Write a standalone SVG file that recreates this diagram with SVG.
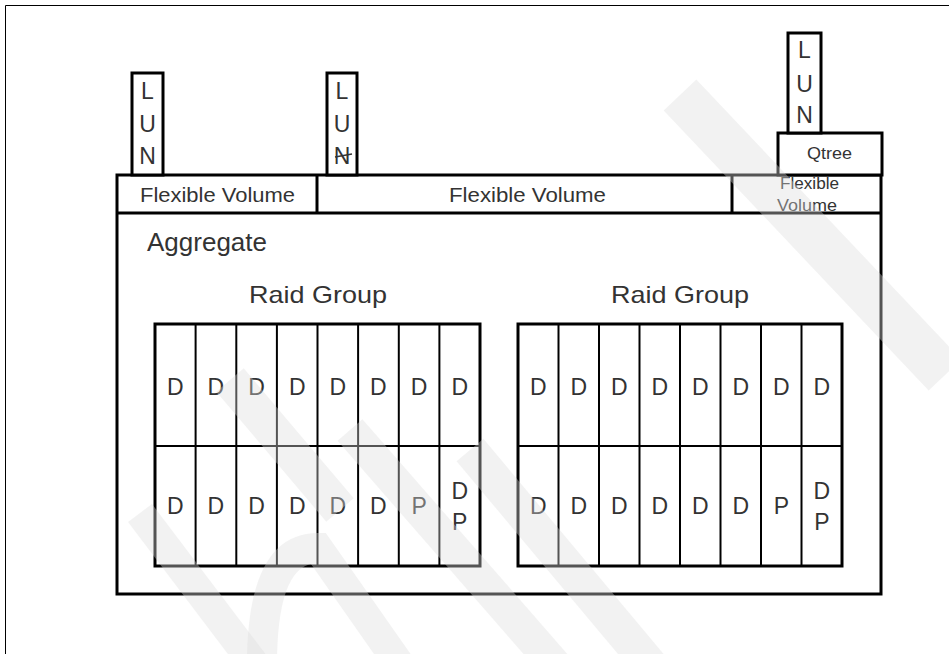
<svg xmlns="http://www.w3.org/2000/svg" width="949" height="654" viewBox="0 0 949 654">
<style>
.frame{stroke:#000;stroke-width:1;fill:none}
.box{fill:#fff;stroke:#000;stroke-width:3}
.ln{stroke:#000;stroke-width:3;fill:none}
.cell{fill:none;stroke:#000;stroke-width:2}
.t{font-family:"Liberation Sans",Arial,sans-serif;fill:#333}
.lun{font-size:23px;text-anchor:middle}
.d{font-size:23px;text-anchor:middle}
.wm{fill:none;stroke:#dcdcdc;stroke-opacity:0.38;stroke-linecap:butt}
</style>
<rect width="949" height="654" fill="#fff"/>
<g id="frame">
<line class="frame" x1="5.5" y1="5.5" x2="949" y2="5.5"/>
<line class="frame" x1="5.5" y1="5.5" x2="5.5" y2="654"/>
</g>
<g id="connectors"></g>
<g id="aggregate">
<rect class="box" x="117" y="175" width="764" height="419"/>
<line class="ln" x1="117" y1="213" x2="881" y2="213"/>
<text class="t" x="147" y="251" font-size="25" textLength="120" lengthAdjust="spacingAndGlyphs">Aggregate</text>
</g>
<g id="flexvol1">
<line class="ln" x1="317" y1="175" x2="317" y2="213"/>
<text class="t" x="140" y="202" font-size="20" textLength="155" lengthAdjust="spacingAndGlyphs">Flexible Volume</text>
</g>
<g id="flexvol2">
<line class="ln" x1="732" y1="175" x2="732" y2="213"/>
<text class="t" x="449" y="202" font-size="20" textLength="157" lengthAdjust="spacingAndGlyphs">Flexible Volume</text>
</g>
<g id="flexvol3">
<text class="t" x="780" y="189" font-size="16" textLength="59" lengthAdjust="spacingAndGlyphs">Flexible</text>
<text class="t" x="777" y="211" font-size="16" textLength="60" lengthAdjust="spacingAndGlyphs">Volume</text>
</g>
<g id="lun1">
<rect class="box" x="132" y="73" width="31" height="102"/>
<text class="t lun" x="147.5" y="99">L</text>
<text class="t lun" x="147.5" y="132">U</text>
<text class="t lun" x="147.5" y="164">N</text>
</g>
<g id="lun2">
<rect class="box" x="327" y="73" width="30" height="102"/>
<text class="t lun" x="342" y="99">L</text>
<text class="t lun" x="342" y="132">U</text>
<text class="t lun" x="342" y="164">N</text>
<line x1="335" y1="157" x2="352" y2="154" stroke="#333" stroke-width="1.5"/>
</g>
<g id="qtree">
<rect class="box" x="778" y="133" width="104" height="42"/>
<text class="t" x="807" y="159" font-size="16" textLength="45" lengthAdjust="spacingAndGlyphs">Qtree</text>
</g>
<g id="lun3">
<rect class="box" x="788" y="33" width="33" height="100"/>
<text class="t lun" x="804.5" y="58">L</text>
<text class="t lun" x="804.5" y="92">U</text>
<text class="t lun" x="804.5" y="123">N</text>
</g>
<g id="raidgroup1">
<text class="t" x="249" y="303" font-size="24" textLength="138" lengthAdjust="spacingAndGlyphs">Raid Group</text>
<rect class="box" x="155" y="324" width="325" height="242" fill="none"/>
<line class="cell" x1="155" y1="446" x2="480" y2="446"/>
<line class="cell" x1="195.6" y1="324" x2="195.6" y2="566"/>
<line class="cell" x1="236.3" y1="324" x2="236.3" y2="566"/>
<line class="cell" x1="276.9" y1="324" x2="276.9" y2="566"/>
<line class="cell" x1="317.5" y1="324" x2="317.5" y2="566"/>
<line class="cell" x1="358.1" y1="324" x2="358.1" y2="566"/>
<line class="cell" x1="398.8" y1="324" x2="398.8" y2="566"/>
<line class="cell" x1="439.4" y1="324" x2="439.4" y2="566"/>
<text class="t d" x="175.3" y="395">D</text>
<text class="t d" x="215.9" y="395">D</text>
<text class="t d" x="256.6" y="395">D</text>
<text class="t d" x="297.2" y="395">D</text>
<text class="t d" x="337.8" y="395">D</text>
<text class="t d" x="378.4" y="395">D</text>
<text class="t d" x="419.1" y="395">D</text>
<text class="t d" x="459.7" y="395">D</text>
<text class="t d" x="175.3" y="514">D</text>
<text class="t d" x="215.9" y="514">D</text>
<text class="t d" x="256.6" y="514">D</text>
<text class="t d" x="297.2" y="514">D</text>
<text class="t d" x="337.8" y="514">D</text>
<text class="t d" x="378.4" y="514">D</text>
<text class="t d" x="419.1" y="514">P</text>
<text class="t d" x="459.7" y="499">D</text>
<text class="t d" x="459.7" y="530">P</text>
</g>
<g id="raidgroup2">
<text class="t" x="611" y="303" font-size="24" textLength="138" lengthAdjust="spacingAndGlyphs">Raid Group</text>
<rect class="box" x="518" y="324" width="324" height="242" fill="none"/>
<line class="cell" x1="518" y1="446" x2="842" y2="446"/>
<line class="cell" x1="558.5" y1="324" x2="558.5" y2="566"/>
<line class="cell" x1="599" y1="324" x2="599" y2="566"/>
<line class="cell" x1="639.5" y1="324" x2="639.5" y2="566"/>
<line class="cell" x1="680" y1="324" x2="680" y2="566"/>
<line class="cell" x1="720.5" y1="324" x2="720.5" y2="566"/>
<line class="cell" x1="761" y1="324" x2="761" y2="566"/>
<line class="cell" x1="801.5" y1="324" x2="801.5" y2="566"/>
<text class="t d" x="538.3" y="395">D</text>
<text class="t d" x="578.8" y="395">D</text>
<text class="t d" x="619.3" y="395">D</text>
<text class="t d" x="659.8" y="395">D</text>
<text class="t d" x="700.3" y="395">D</text>
<text class="t d" x="740.8" y="395">D</text>
<text class="t d" x="781.3" y="395">D</text>
<text class="t d" x="821.8" y="395">D</text>
<text class="t d" x="538.3" y="514">D</text>
<text class="t d" x="578.8" y="514">D</text>
<text class="t d" x="619.3" y="514">D</text>
<text class="t d" x="659.8" y="514">D</text>
<text class="t d" x="700.3" y="514">D</text>
<text class="t d" x="740.8" y="514">D</text>
<text class="t d" x="781.3" y="514">P</text>
<text class="t d" x="821.8" y="499">D</text>
<text class="t d" x="821.8" y="530">P</text>
</g>
<g id="watermark">
<path class="wm" stroke-width="45" d="M680,95 L945,375"/>
<path class="wm" stroke-width="30" d="M140,513 L255,665"/>
<path class="wm" stroke-width="30" d="M262,665 Q262,548 318,548 L400,665"/>
<path class="wm" stroke-width="36" d="M230,380 L340,510"/>
<path class="wm" stroke-width="33" d="M350,430 L555,665"/>
<path class="wm" stroke-width="35" d="M470,450 L650,665"/>
</g>
</svg>
